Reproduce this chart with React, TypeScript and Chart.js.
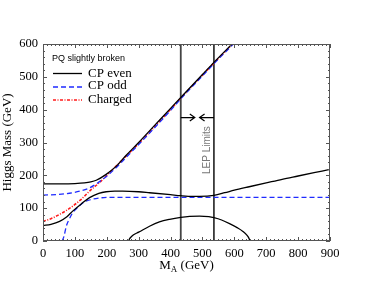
import React, { useEffect, useRef } from "react";
import { Chart, registerables } from "chart.js";

Chart.register(...registerables);

// ---- Data (GeV) ----
const X_MIN = 0, X_MAX = 900, Y_MIN = 0, Y_MAX = 600;

const cpEvenHeavyX = [0, 60, 100, 130, 150, 167, 198, 230, 261, 300, 350, 400, 432, 500, 536, 600, 620];
const cpEvenHeavyY = [174, 174, 175, 177, 180, 185, 203, 228, 261, 300, 352, 404, 437, 507, 544, 607, 627];

const cpEvenMidX = [0, 25, 52, 75, 93, 120, 146, 175, 198, 225, 250, 300, 334, 400, 432, 470, 491, 536, 570, 600, 650, 700, 750, 800, 850, 900];
const cpEvenMidY = [47, 51, 60, 74, 91, 113, 132, 145, 150, 152, 152, 150, 147, 141, 138, 136, 136, 139, 147, 155, 166, 177, 188, 198, 208, 218];

const cpEvenLowX = [269, 271, 276, 284, 300, 334, 365, 397, 432, 460, 491, 520, 536, 560, 585, 610, 627, 640, 646, 649];
const cpEvenLowY = [0, 6, 12, 19, 27, 45, 58, 66, 72, 75, 76, 74, 71, 64, 53, 40, 29, 17, 8, 0];

const cpOddUpX = [0, 50, 93, 120, 146, 170, 198, 230, 261, 300, 350, 400, 432, 500, 536, 600, 620];
const cpOddUpY = [140, 142, 147, 153, 162, 176, 196, 224, 255, 294, 345, 398, 433, 503, 540, 603, 623];

const cpOddLowX = [60, 66, 73, 83, 93, 110, 125, 150, 177, 220, 250, 300, 400, 500, 600, 700, 800, 900];
const cpOddLowY = [0, 15, 45, 68, 86, 103, 116, 126, 131, 133, 133, 133, 133, 133, 133, 133, 133, 133];

const chargedX = [0, 25, 52, 75, 93, 120, 146, 175, 198, 230, 261, 300, 350, 400, 432, 500, 536, 600, 620];
const chargedY = [60, 68, 81, 94, 106, 127, 152, 176, 198, 229, 259, 297, 348, 401, 435, 505, 542, 605, 625];

const LEP_LIMITS = [432, 536];
const ARROW_Y = 376;
const ARROW_TIPS = [476, 491];
const LEP_LABEL_POS = { x: 516, y: 277 };

const X_TICK_STEP = 100;
const Y_TICK_STEP = 100;
const X_MINOR_STEP = 12.5;
const Y_MINOR_STEP = 20;

const LEGEND_TITLE = "PQ slightly broken";
const LEGEND_LABELS = ["CP even", "CP odd", "Charged"];
const LEP_LABEL = "LEP Limits";
const Y_TITLE = "Higgs Mass (GeV)";

const zip = (xs: number[], ys: number[]) => xs.map((x, i) => ({ x, y: ys[i] }));

const SERIF = "'Liberation Serif', 'Times New Roman', serif";
const SANS = "'Liberation Sans', Arial, sans-serif";

const BLACK = "#000000";
const BLUE = "#1f2bff";
const RED = "#ff1a1a";

const decorPlugin = {
  id: "decor",
  afterDraw(chart: any) {
    const { ctx, chartArea: a, scales } = chart;
    const xs = scales.x, ys = scales.y;
    const px = (v: number) => xs.getPixelForValue(v);
    const py = (v: number) => ys.getPixelForValue(v);
    ctx.save();

    // frame
    ctx.strokeStyle = "#555";
    ctx.lineWidth = 1;
    ctx.setLineDash([]);
    ctx.strokeRect(a.left + 0.5, a.top + 0.5, a.right - a.left - 1, a.bottom - a.top - 1);

    // inward ticks
    ctx.beginPath();
    for (let v = X_MIN; v <= X_MAX + 1e-6; v += X_MINOR_STEP) {
      const x = Math.round(px(v)) + 0.5;
      const len = Math.abs(v % X_TICK_STEP) < 1e-6 ? 4 : 2;
      ctx.moveTo(x, a.bottom);
      ctx.lineTo(x, a.bottom - len);
      ctx.moveTo(x, a.top);
      ctx.lineTo(x, a.top + len);
    }
    for (let v = Y_MIN; v <= Y_MAX + 1e-6; v += Y_MINOR_STEP) {
      const y = Math.round(py(v)) + 0.5;
      const len = Math.abs(v % Y_TICK_STEP) < 1e-6 ? 4 : 2;
      ctx.moveTo(a.left, y);
      ctx.lineTo(a.left + len, y);
      ctx.moveTo(a.right, y);
      ctx.lineTo(a.right - len, y);
    }
    ctx.stroke();

    // arrows
    ctx.strokeStyle = "#000";
    ctx.lineWidth = 1.2;
    const ay = py(ARROW_Y);
    const drawArrow = (from: number, to: number) => {
      const x0 = px(from), x1 = px(to);
      const dir = Math.sign(x1 - x0);
      ctx.beginPath();
      ctx.moveTo(x0, ay);
      ctx.lineTo(x1, ay);
      ctx.moveTo(x1 - dir * 5, ay - 3.5);
      ctx.lineTo(x1, ay);
      ctx.lineTo(x1 - dir * 5, ay + 3.5);
      ctx.stroke();
    };
    drawArrow(LEP_LIMITS[0], ARROW_TIPS[0]);
    drawArrow(LEP_LIMITS[1], ARROW_TIPS[1]);

    // LEP label
    ctx.save();
    ctx.translate(px(LEP_LABEL_POS.x), py(LEP_LABEL_POS.y));
    ctx.rotate(-Math.PI / 2);
    ctx.font = `10px ${SANS}`;
    ctx.fillStyle = "#777";
    ctx.textAlign = "center";
    ctx.textBaseline = "middle";
    ctx.fillText(LEP_LABEL, 0, 0);
    ctx.restore();

    // legend
    ctx.fillStyle = "#000";
    ctx.font = `9px ${SANS}`;
    ctx.textAlign = "left";
    ctx.textBaseline = "alphabetic";
    ctx.fillText(LEGEND_TITLE, 52, 61);
    const rows = [
      { color: BLACK, dash: [] as number[], width: 1.3, lineY: 73.5, textY: 77 },
      { color: BLUE, dash: [5, 3], width: 1.3, lineY: 87, textY: 89 },
      { color: RED, dash: [3, 1.5, 1, 1.5], width: 1.6, lineY: 100, textY: 102.5 },
    ];
    rows.forEach((r, i) => {
      ctx.strokeStyle = r.color;
      ctx.lineWidth = r.width;
      ctx.setLineDash(r.dash);
      ctx.beginPath();
      ctx.moveTo(53, r.lineY);
      ctx.lineTo(82, r.lineY);
      ctx.stroke();
      ctx.setLineDash([]);
      ctx.font = `13px ${SERIF}`;
      ctx.fillText(LEGEND_LABELS[i], 88, r.textY);
    });

    // x title: M_A (GeV)
    ctx.fillStyle = "#000";
    ctx.font = `13px ${SERIF}`;
    const wM = ctx.measureText("M").width;
    const rest = " (GeV)";
    const wRest = ctx.measureText(rest).width;
    ctx.font = `9px ${SERIF}`;
    const wA = ctx.measureText("A").width;
    const total = wM + wA + wRest;
    const cx = (a.left + a.right) / 2;
    let tx = cx - total / 2;
    const base = 268.5;
    ctx.font = `13px ${SERIF}`;
    ctx.fillText("M", tx, base);
    tx += wM;
    ctx.font = `9px ${SERIF}`;
    ctx.fillText("A", tx, base + 3);
    tx += wA;
    ctx.font = `13px ${SERIF}`;
    ctx.fillText(rest, tx, base);

    // y title
    ctx.save();
    ctx.translate(11, (a.top + a.bottom) / 2);
    ctx.rotate(-Math.PI / 2);
    ctx.textAlign = "center";
    ctx.font = `13px ${SERIF}`;
    ctx.fillText(Y_TITLE, 0, 0);
    ctx.restore();

    ctx.restore();
  },
};

export default function App() {
  const ref = useRef<HTMLCanvasElement | null>(null);
  useEffect(() => {
    if (!ref.current) return;
    const smooth = { cubicInterpolationMode: "monotone" as const, pointRadius: 0, fill: false };
    const chart = new Chart(ref.current, {
      type: "line",
      data: {
        datasets: [
          { ...smooth, label: "CP even", data: zip(cpEvenHeavyX, cpEvenHeavyY), borderColor: BLACK, borderWidth: 1.3 },
          { ...smooth, label: "CP even mid", data: zip(cpEvenMidX, cpEvenMidY), borderColor: BLACK, borderWidth: 1.3 },
          { ...smooth, label: "CP even low", data: zip(cpEvenLowX, cpEvenLowY), borderColor: BLACK, borderWidth: 1.3 },
          { ...smooth, label: "CP odd", data: zip(cpOddUpX, cpOddUpY), borderColor: BLUE, borderWidth: 1.3, borderDash: [5, 3] },
          { ...smooth, label: "CP odd low", data: zip(cpOddLowX, cpOddLowY), borderColor: BLUE, borderWidth: 1.3, borderDash: [5, 3] },
          { ...smooth, label: "Charged", data: zip(chargedX, chargedY), borderColor: RED, borderWidth: 1.6, borderDash: [3, 1.5, 1, 1.5] },
          { label: "LEP1", data: [{ x: LEP_LIMITS[0], y: Y_MIN }, { x: LEP_LIMITS[0], y: Y_MAX }], borderColor: "#444", borderWidth: 1.8, pointRadius: 0, tension: 0 },
          { label: "LEP2", data: [{ x: LEP_LIMITS[1], y: Y_MIN }, { x: LEP_LIMITS[1], y: Y_MAX }], borderColor: "#111", borderWidth: 1.5, pointRadius: 0, tension: 0 },
        ],
      },
      options: {
        animation: false,
        responsive: false,
        maintainAspectRatio: false,
        layout: { padding: { left: 0, right: 44, top: 44, bottom: 0 } },
        plugins: { legend: { display: false }, tooltip: { enabled: false }, title: { display: false } },
        scales: {
          x: {
            type: "linear",
            min: X_MIN,
            max: X_MAX,
            grid: { display: false, drawTicks: false },
            border: { display: false },
            ticks: { stepSize: X_TICK_STEP, color: "#000", font: { family: SERIF, size: 12.5 }, padding: 5, maxRotation: 0 },
            afterFit: (s: any) => { s.height = 45; },
          },
          y: {
            type: "linear",
            min: Y_MIN,
            max: Y_MAX,
            grid: { display: false, drawTicks: false },
            border: { display: false },
            ticks: { stepSize: Y_TICK_STEP, color: "#000", font: { family: SERIF, size: 12.5 }, padding: 5 },
            afterFit: (s: any) => { s.width = 43; },
          },
        },
      },
      plugins: [decorPlugin],
    } as any);
    return () => chart.destroy();
  }, []);
  return (
    <div style={{ position: "absolute", left: 0, top: 0, width: 374, height: 286, background: "#fff" }}>
      <canvas ref={ref} width={374} height={286} style={{ width: 374, height: 286, display: "block" }} />
    </div>
  );
}
